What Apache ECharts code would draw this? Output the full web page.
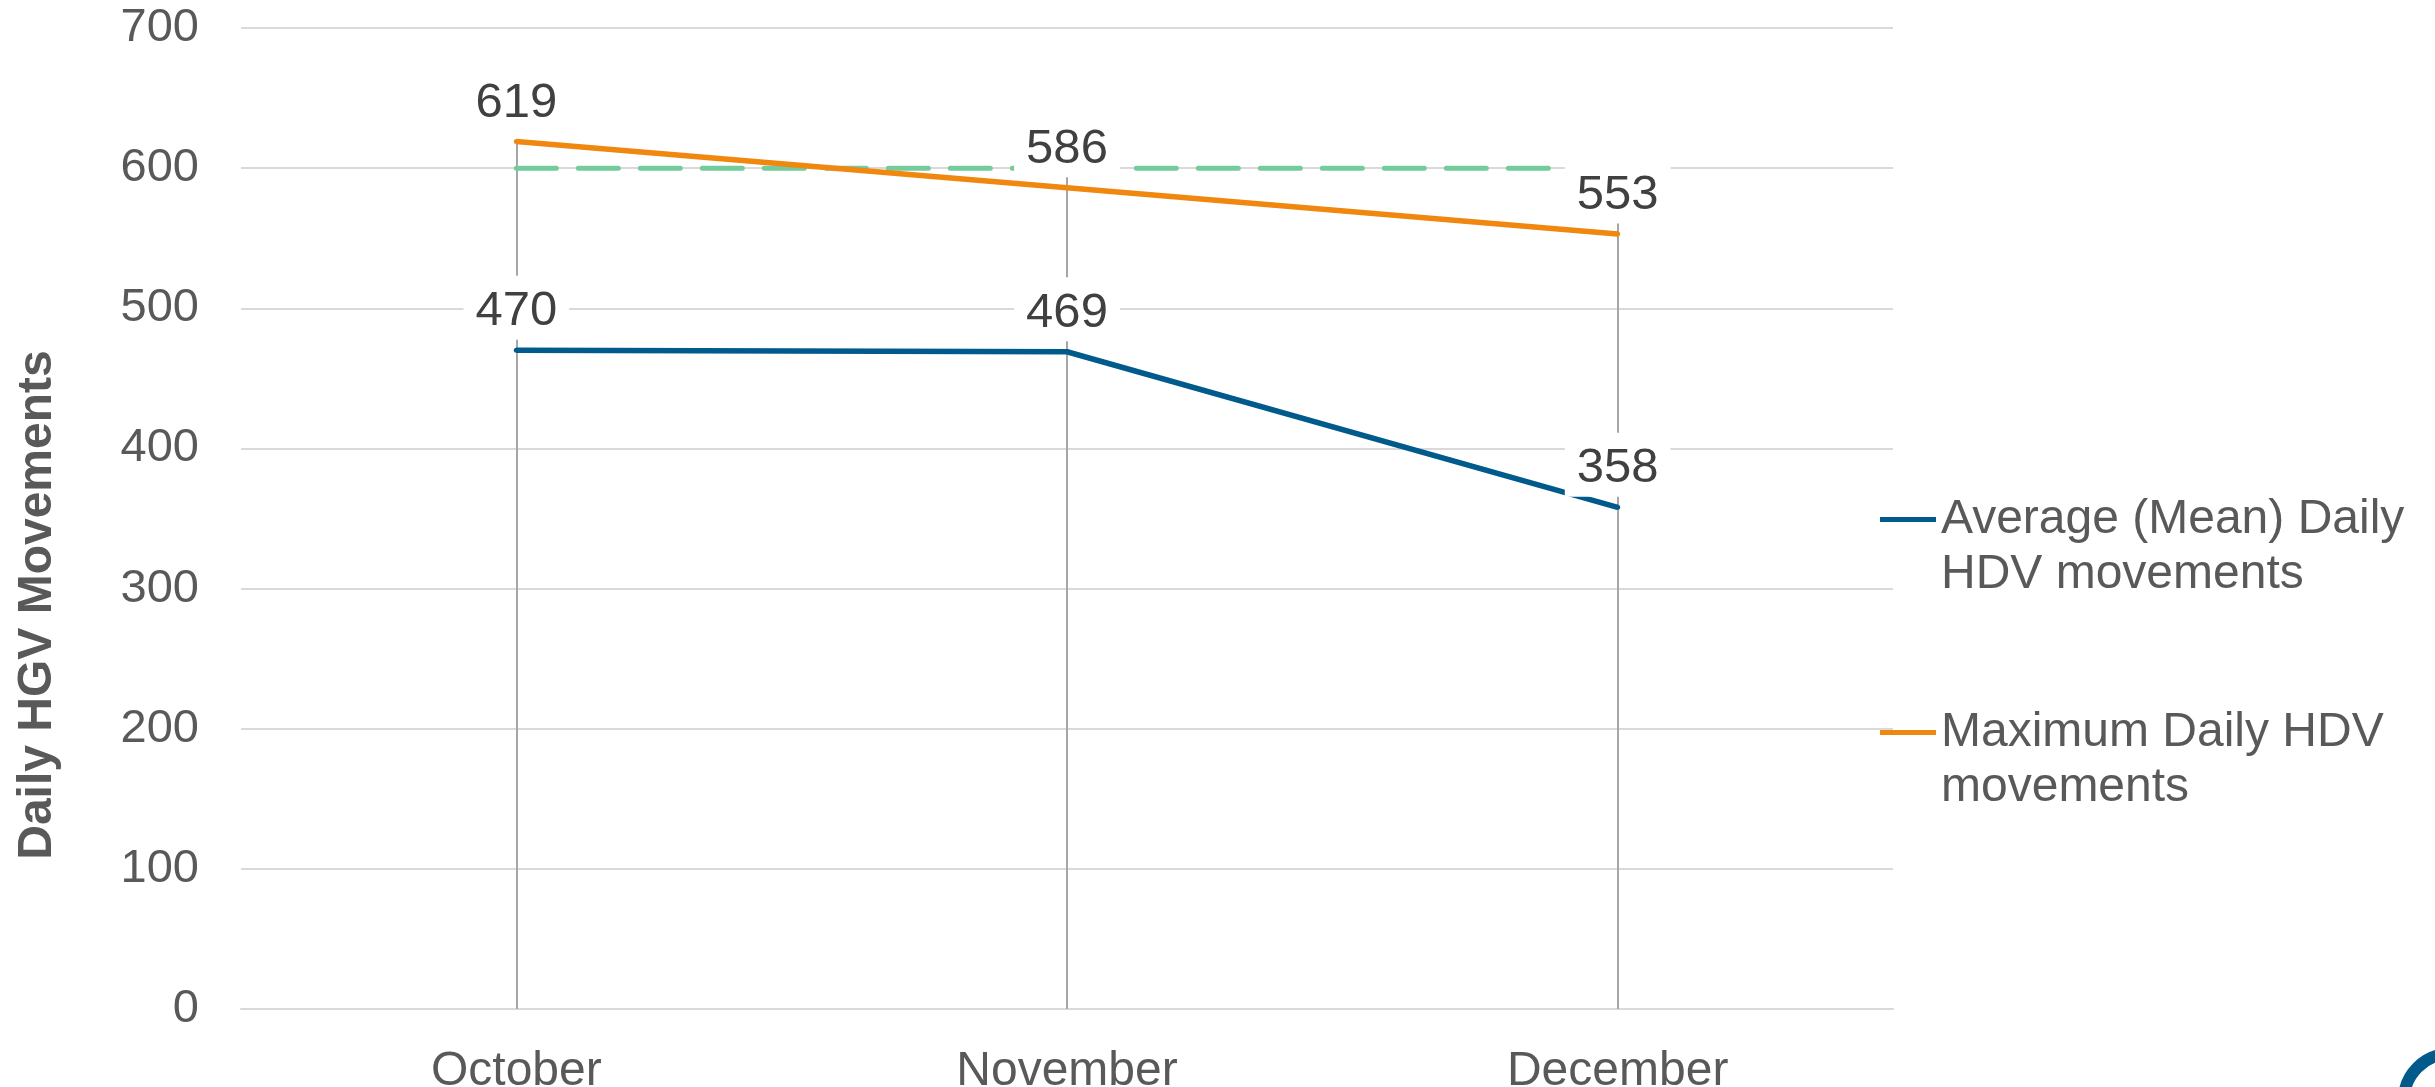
<!DOCTYPE html>
<html>
<head>
<meta charset="utf-8">
<title>Daily HGV Movements</title>
<script src="https://cdn.jsdelivr.net/npm/echarts@6/dist/echarts.min.js"></script>
<style>
  html, body { margin: 0; padding: 0; background: #ffffff; }
  #chart { width: 2435px; height: 1087px; }
</style>
</head>
<body>
<div id="chart"></div>
<script>
const months = ['October', 'November', 'December']
const meanDaily = [470, 469, 358]
const maxDaily = [619, 586, 553]
const target = [600, 600, 600]
const yTicks = [0, 100, 200, 300, 400, 500, 600, 700]

const meanName = 'Average (Mean) Daily\nHDV movements'
const maxName = 'Maximum Daily HDV\nmovements'

const font = 'Liberation Sans, Arial, sans-serif'
const blue = '#005a8c'
const orange = '#f0870f'
const green = '#74cb9c'

// drop lines from the highest value down to the axis
const dropLines = months.map((m, i) => {
  const top = Math.max(meanDaily[i], maxDaily[i], target[i])
  return [{ coord: [i, top] }, { coord: [i, 0] }]
})

const labelStyle = {
  show: true,
  position: 'top',
  distance: 8,
  color: '#404040',
  fontFamily: font,
  fontSize: 49,
  lineHeight: 52,
  backgroundColor: '#ffffff',
  padding: [10, 12, 2, 12],
}

const chart = echarts.init(document.getElementById('chart'))

chart.setOption({
  animation: false,
  backgroundColor: '#ffffff',
  grid: { left: 241, right: 542, top: 28, bottom: 78, outerBoundsMode: 'none' },
  legend: {
    orient: 'vertical',
    left: 1875,
    top: 432,
    itemGap: 48,
    itemWidth: 56,
    itemHeight: 5,
    icon: 'rect',
    data: [meanName, maxName],
    // leading blank line keeps the icon level with the first text line
    formatter: (name) => '\n' + name,
    textStyle: {
      color: '#595959',
      fontFamily: font,
      fontSize: 48,
      lineHeight: 55,
    },
  },
  xAxis: {
    type: 'category',
    data: months,
    boundaryGap: true,
    axisLine: { show: true, lineStyle: { color: '#d9d9d9', width: 2 } },
    axisTick: { show: false },
    axisLabel: { color: '#595959', fontFamily: font, fontSize: 48, margin: 39 },
    splitLine: { show: false },
  },
  yAxis: {
    type: 'value',
    min: yTicks[0],
    max: yTicks[yTicks.length - 1],
    interval: 100,
    axisLine: { show: false },
    axisTick: { show: false },
    axisLabel: { color: '#595959', fontFamily: font, fontSize: 47, margin: 42 },
    splitLine: { lineStyle: { color: '#d9d9d9', width: 2 } },
  },
  graphic: [
    {
      type: 'text',
      x: 38,
      y: 605,
      rotation: Math.PI / 2,
      style: {
        text: 'Daily HGV Movements',
        fill: '#595959',
        font: 'bold 48px ' + font,
        textAlign: 'center',
        textVerticalAlign: 'middle',
      },
    },
    {
      type: 'circle',
      shape: { cx: 2450, cy: 1100, r: 46 },
      style: { fill: 'none', stroke: blue, lineWidth: 12 },
      silent: true,
    },
  ],
  series: [
    {
      name: 'Target',
      type: 'line',
      z: 1,
      data: target,
      symbol: 'none',
      lineStyle: { color: green, width: 5, type: [40, 22], cap: 'round' },
      markLine: {
        z: 1,
        silent: true,
        symbol: 'none',
        label: { show: false },
        lineStyle: { color: '#a6a6a6', width: 2, type: 'solid' },
        data: dropLines,
      },
    },
    {
      name: meanName,
      type: 'line',
      z: 3,
      data: meanDaily,
      symbol: 'circle',
      symbolSize: 5,
      itemStyle: { color: blue },
      lineStyle: { color: blue, width: 5.5 },
      label: labelStyle,
    },
    {
      name: maxName,
      type: 'line',
      z: 3,
      data: maxDaily,
      symbol: 'circle',
      symbolSize: 5,
      itemStyle: { color: orange },
      lineStyle: { color: orange, width: 5.5 },
      label: labelStyle,
    },
  ],
})
</script>
</body>
</html>
